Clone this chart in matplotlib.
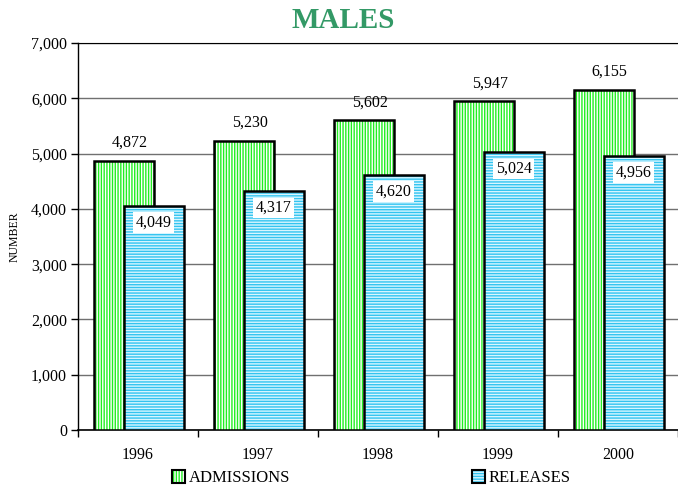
import matplotlib
matplotlib.use("Agg")
import matplotlib.pyplot as plt
import numpy as np
from matplotlib.patches import Patch
from matplotlib.legend_handler import HandlerTuple
from matplotlib.ticker import FuncFormatter

plt.rcParams['font.family'] = ['Liberation Serif', 'DejaVu Serif']
plt.rcParams['hatch.linewidth'] = 1.0

years = ['1996', '1997', '1998', '1999', '2000']
admissions = [4872, 5230, 5602, 5947, 6155]
releases = [4049, 4317, 4620, 5024, 4956]

W, H = 678, 486
fig = plt.figure(figsize=(W / 100, H / 100), dpi=100)
ax = fig.add_axes([78 / W, 1 - 430 / H, 600 / W, 387 / H])

x = np.arange(len(years))
bw = 0.5
off_a, off_r = -0.12, 0.13

adm_face = dict(facecolor='white', edgecolor='#22ee22', hatch='||||||', linewidth=0)
rel_face = dict(facecolor='#d8f6ff', edgecolor='#33c4f0', hatch='------', linewidth=0)

ax.bar(x + off_a, admissions, bw, zorder=3, **adm_face)
ax.bar(x + off_a, admissions, bw, fill=False, edgecolor='black', linewidth=1.8, zorder=4)
ax.bar(x + off_r, releases, bw, zorder=5, **rel_face)
ax.bar(x + off_r, releases, bw, fill=False, edgecolor='black', linewidth=1.8, zorder=6)

for xi, v in zip(x, admissions):
    ax.annotate(f"{v:,}", (xi + off_a + 0.05, v), xytext=(0, 7), textcoords='offset points',
                ha='center', va='bottom', fontsize=11.5, zorder=7)
for xi, v in zip(x, releases):
    ax.annotate(f"{v:,}", (xi + off_r, v), xytext=(0, -12), textcoords='offset points',
                ha='center', va='center', fontsize=11.5, zorder=8,
                bbox=dict(boxstyle='square,pad=0.15', facecolor='white', edgecolor='none'))

ax.set_ylim(0, 7000)
ax.set_xlim(-0.5, -0.5 + 600 / 121)
ax.set_yticks(np.arange(0, 7001, 1000))
ax.yaxis.set_major_formatter(FuncFormatter(lambda v, p: f"{int(v):,}"))
ax.set_xticks(x)
ax.set_xticklabels(years)
ax.set_xticks(np.arange(-0.5, 5, 1.0), minor=True)
ax.tick_params(axis='x', which='major', length=0, pad=12, labelsize=11.5)
ax.tick_params(axis='x', which='minor', length=5, direction='out', width=1)
ax.tick_params(axis='y', length=5, direction='out', width=1, labelsize=11.5, pad=3)

ax.grid(axis='y', color='#707070', linewidth=1, zorder=0)
ax.set_axisbelow(True)
ax.spines['right'].set_visible(False)
ax.spines['top'].set_color('black')
ax.spines['left'].set_linewidth(1)
ax.spines['bottom'].set_linewidth(1.2)

fig.text(343 / W, 1 - 21 / H, 'MALES', ha='center', va='center', fontsize=21,
         fontweight='bold', color='#339966')
fig.text(15 / W, 1 - 237 / H, 'NUMBER', rotation=90, ha='center', va='center', fontsize=8.5)

h_adm = (Patch(**adm_face), Patch(fill=False, edgecolor='black', linewidth=1.5))
h_rel = (Patch(**rel_face), Patch(fill=False, edgecolor='black', linewidth=1.5))
fig.legend([h_adm, h_rel], ['ADMISSIONS', 'RELEASES'], ncol=2,
           handler_map={tuple: HandlerTuple(ndivide=1, pad=0)},
           loc='center left', bbox_to_anchor=(172 / W, 1 - 478 / H),
           frameon=False, fontsize=12, borderpad=0, borderaxespad=0,
           handlelength=0.8, handleheight=0.8, handletextpad=0.2, columnspacing=10.9)

fig.savefig('out.png', dpi=100)
